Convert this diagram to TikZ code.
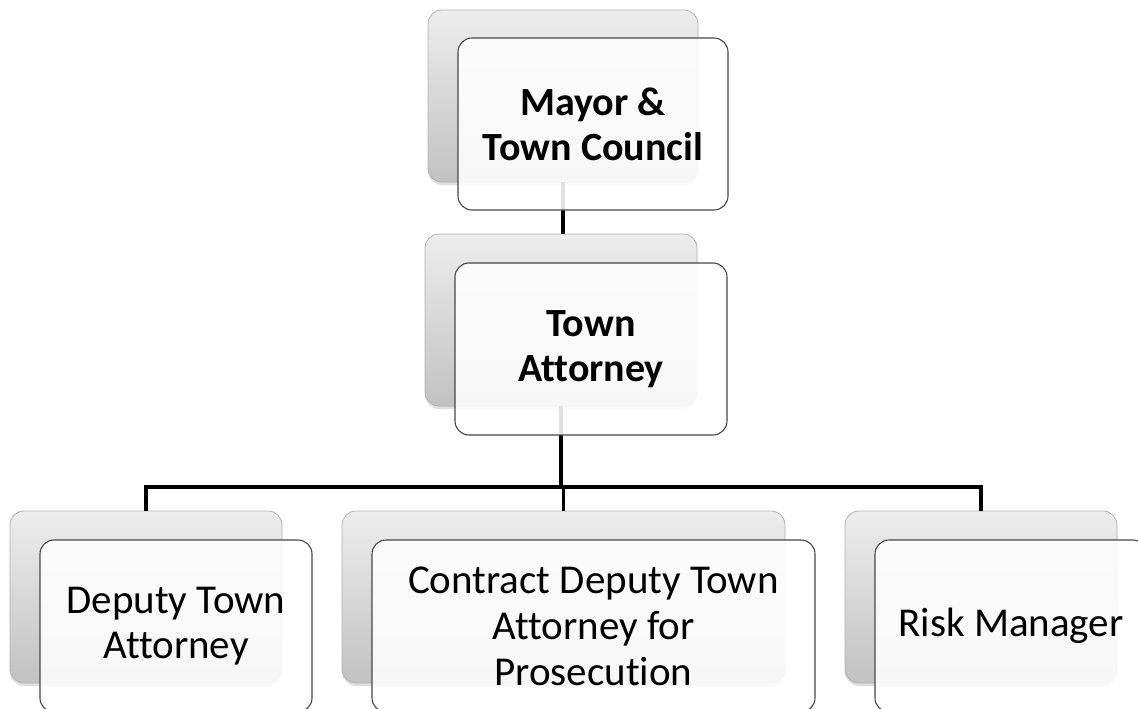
\documentclass[tikz,border=0pt]{standalone}
\usepackage{fontspec}
\setmainfont{Carlito}[Ligatures={NoCommon}]
\usetikzlibrary{shadows}
\begin{document}
\begin{tikzpicture}[x=1pt,y=-1pt,
  backbox/.style={draw=black!30, line width=0.8pt, rounded corners=14pt,
    top color=black!7, bottom color=black!24,
    minimum height=172pt, inner sep=0pt,
    drop shadow={shadow xshift=0pt, shadow yshift=-3pt, opacity=0.25}},
  frontbox/.style={draw=black!72, line width=1.1pt, rounded corners=14pt,
    fill=white, fill opacity=0.88, text opacity=1,
    minimum height=172pt, inner sep=0pt, align=center,
    font=\fontsize{40}{45}\selectfont},
  headtext/.style={font=\fontsize{40}{45}\selectfont\bfseries},
  link/.style={draw=black, line width=3.2pt}]
\useasboundingbox (0,0) rectangle (1138,709);
\clip (0,0) rectangle (1138,709);

% back cards
\node[backbox, minimum width=270pt] (mayorB)  at (563,96)   {};
\node[backbox, minimum width=272pt] (attyB)   at (561,320)  {};
\node[backbox, minimum width=272pt] (depB)    at (146,597)  {};
\node[backbox, minimum width=443pt] (contrB)  at (563.5,597) {};
\node[backbox, minimum width=272pt] (riskB)   at (981,597)  {};

% reporting lines
\coordinate (bus) at (563,487);
\draw[link] (mayorB.south) -- (mayorB.south |- attyB.north);
\draw[link] (attyB.south) -- (attyB.south |- bus);
\draw[link] (depB.north) |- (bus) -| (riskB.north);
\draw[link] (contrB.north) -- (contrB.north |- bus);

% front cards
\node[frontbox, headtext, minimum width=270pt] (mayor) at (593,124)
  {Mayor \&\\Town Council};
\node[frontbox, headtext, minimum width=272pt] (atty) at (591,349)
  {Town\\Attorney};
\node[frontbox, minimum width=272pt, font=\fontsize{41}{45}\selectfont] (dep) at (176,626)
  {Deputy Town\\Attorney};
\node[frontbox, minimum width=443pt, font=\fontsize{41}{46}\selectfont] (contr) at (593.5,626)
  {Contract Deputy Town\\Attorney for\\Prosecution};
\node[frontbox, minimum width=272pt, font=\fontsize{41}{45}\selectfont] (risk) at (1011,626)
  {Risk Manager};
\end{tikzpicture}
\end{document}
